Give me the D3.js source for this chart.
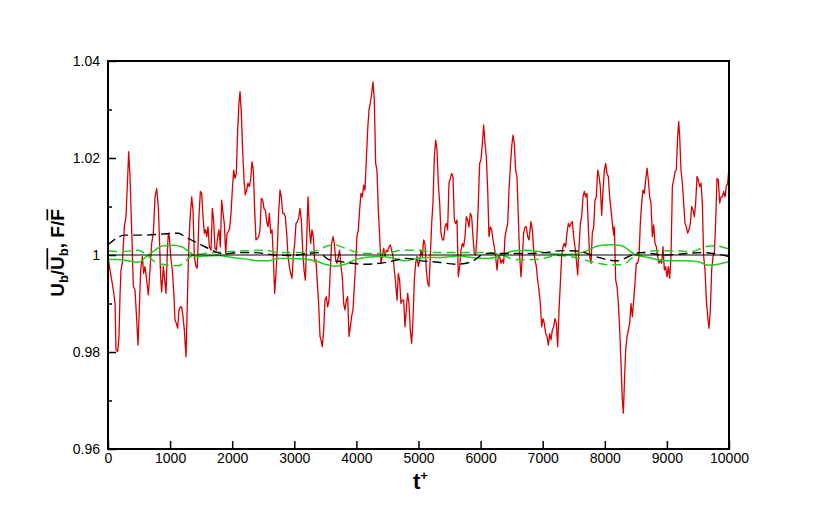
<!DOCTYPE html>
<html><head><meta charset="utf-8">
<script src="https://cdn.jsdelivr.net/npm/d3@7"></script>
<style>
html,body{margin:0;padding:0;background:#fff;}
svg text{font-family:"Liberation Sans",Arial,Helvetica,sans-serif;}
</style></head>
<body><svg id="c" width="830" height="506"></svg>
<script>
// ---- data ----
const xTicks = [0,1000,2000,3000,4000,5000,6000,7000,8000,9000,10000];
const yTicks = [0.96,0.98,1,1.02,1.04];
const yMinorTicks = [0.97,0.99,1.01,1.03];
const yTickLabels = ["0.96","0.98","1","1.02","1.04"];

// red: Ub / mean(Ub)
const redSeries = [
[0,0.9995],[32,0.9969],[86,0.9928],[113,0.9900],[129,0.9804],[156,0.9801],[177,0.9832],[193,0.9914],[209,0.9969],[231,0.9983],[263,1.0058],[290,1.0079],[317,1.0162],[333,1.0213],[354,1.0162],[381,1.0052],[408,0.9935],[435,0.9928],[462,0.9866],[483,0.9814],[504,0.9887],[526,0.9969],[553,0.9997],[574,0.9962],[596,0.9976],[617,0.9955],[649,0.9918],[676,0.9969],[703,1.0024],[730,1.0045],[757,1.0120],[784,1.0137],[810,1.0100],[827,1.0038],[848,0.9955],[864,0.9924],[891,0.9976],[918,0.9942],[934,0.9921],[956,1.0010],[972,1.0045],[988,1.0038],[1009,0.9997],[1036,0.9969],[1063,0.9914],[1079,0.9866],[1100,0.9859],[1122,0.9849],[1143,0.9887],[1165,0.9893],[1186,0.9893],[1208,0.9873],[1229,0.9845],[1256,0.9790],[1277,0.9900],[1299,1.0010],[1320,1.0072],[1347,1.0120],[1369,1.0093],[1390,0.9997],[1417,0.9976],[1438,0.9973],[1465,1.0079],[1487,1.0131],[1508,1.0127],[1530,1.0079],[1551,1.0045],[1573,1.0052],[1589,1.0038],[1610,1.0058],[1632,1.0017],[1659,1.0010],[1680,1.0096],[1701,1.0072],[1723,1.0014],[1745,1.0010],[1766,1.0038],[1787,1.0052],[1809,1.0017],[1830,1.0113],[1852,1.0086],[1873,1.0065],[1895,1.0003],[1916,1.0045],[1938,1.0048],[1959,1.0055],[1981,1.0086],[2002,1.0134],[2024,1.0175],[2045,1.0158],[2066,1.0168],[2088,1.0258],[2109,1.0313],[2126,1.0337],[2147,1.0292],[2168,1.0216],[2190,1.0155],[2211,1.0124],[2233,1.0134],[2254,1.0148],[2276,1.0141],[2297,1.0155],[2319,1.0192],[2340,1.0175],[2362,1.0093],[2383,1.0031],[2405,1.0034],[2426,1.0038],[2448,1.0052],[2469,1.0117],[2491,1.0113],[2512,1.0096],[2534,1.0093],[2555,1.0069],[2577,1.0058],[2598,1.0086],[2620,1.0045],[2641,1.0052],[2662,0.9997],[2684,0.9921],[2705,0.9962],[2727,1.0017],[2748,1.0086],[2770,1.0134],[2791,1.0120],[2813,1.0086],[2834,1.0086],[2856,1.0079],[2877,1.0045],[2899,0.9997],[2920,0.9976],[2942,0.9962],[2963,0.9952],[2985,0.9997],[3006,1.0024],[3027,1.0065],[3049,1.0069],[3070,1.0076],[3092,1.0096],[3113,1.0072],[3135,1.0010],[3156,0.9969],[3178,0.9948],[3199,1.0031],[3221,1.0120],[3242,1.0058],[3264,1.0024],[3285,1.0052],[3307,1.0038],[3328,0.9986],[3349,0.9990],[3371,0.9942],[3392,0.9900],[3414,0.9832],
[3430,0.9825],[3451,0.9811],[3473,0.9845],[3494,0.9907],[3516,0.9914],[3537,0.9893],[3558,0.9907],[3580,0.9969],[3601,1.0024],[3623,1.0038],[3644,1.0024],[3666,0.9990],[3687,0.9983],[3709,0.9997],[3730,1.0010],[3752,0.9976],[3773,0.9955],[3795,0.9900],[3816,0.9887],[3838,0.9907],[3859,0.9914],[3881,0.9832],[3902,0.9852],[3923,0.9873],[3945,0.9887],[3966,0.9935],[3988,0.9983],[4009,1.0038],[4031,1.0052],[4052,1.0093],[4074,1.0127],[4095,1.0120],[4117,1.0144],[4138,1.0134],[4160,1.0196],[4181,1.0258],[4203,1.0299],[4224,1.0313],[4246,1.0333],[4267,1.0357],[4288,1.0320],[4310,1.0189],[4331,1.0175],[4353,1.0093],[4374,1.0038],[4396,0.9983],[4417,0.9997],[4439,1.0014],[4460,0.9997],[4482,1.0010],[4503,1.0007],[4525,1.0017],[4546,1.0021],[4568,1.0010],[4589,0.9997],[4611,0.9969],[4632,0.9942],[4654,0.9907],[4675,0.9962],[4696,0.9948],[4718,0.9900],[4739,0.9907],[4761,0.9907],[4782,0.9852],[4804,0.9887],[4825,0.9921],[4847,0.9900],[4868,0.9845],[4890,0.9818],[4911,0.9866],[4933,0.9948],[4954,0.9983],[4976,0.9997],[4997,0.9976],[5019,0.9990],[5040,1.0010],[5061,0.9997],[5083,1.0031],[5104,1.0024],[5126,0.9969],[5147,0.9942],[5169,0.9935],[5190,0.9997],[5212,1.0065],[5233,1.0107],[5255,1.0203],[5276,1.0237],[5298,1.0216],[5319,1.0148],[5341,1.0107],[5362,1.0045],[5384,1.0031],[5405,1.0031],[5427,1.0058],[5448,1.0065],[5469,1.0052],[5491,1.0148],[5512,1.0158],[5534,1.0168],[5555,1.0162],[5577,1.0072],[5598,1.0065],[5620,1.0072],[5641,0.9955],[5663,0.9976],[5684,1.0010],[5706,1.0024],[5727,1.0017],[5749,1.0038],[5770,1.0079],[5792,1.0072],[5813,1.0058],[5834,1.0086],[5856,1.0079],[5877,1.0038],[5899,1.0003],[5920,1.0000],[5942,1.0038],[5963,1.0107],[5985,1.0189],[6006,1.0196],[6028,1.0230],[6049,1.0268],[6071,1.0230],[6092,1.0203],[6114,1.0134],[6135,1.0038],[6157,1.0058],[6178,1.0052],[6199,1.0031],[6221,1.0017],[6242,0.9997],[6264,0.9969],[6285,0.9997],[6307,0.9997],[6328,0.9983],[6350,0.9990],[6371,0.9983],[6393,1.0038],[6414,1.0052],[6436,1.0065],[6457,1.0134],[6479,1.0182],[6500,1.0223],[6521,1.0247],[6543,1.0230],[6564,1.0175],[6586,1.0162],[6607,1.0079],[6629,0.9997],[6650,0.9955],[6672,0.9997],[6693,1.0045],[6715,1.0058],[6736,1.0058],[6758,1.0038],[6779,1.0031],
[6812,1.0069],[6833,1.0052],[6855,1.0010],[6876,0.9990],[6898,0.9976],[6919,0.9948],[6940,0.9928],[6962,0.9900],[6983,0.9852],[7005,0.9869],[7026,0.9859],[7048,0.9838],[7069,0.9832],[7091,0.9814],[7112,0.9838],[7134,0.9825],[7155,0.9845],[7177,0.9852],[7198,0.9869],[7220,0.9859],[7241,0.9811],[7263,0.9887],[7284,0.9942],[7305,0.9997],[7327,1.0017],[7348,1.0024],[7370,1.0017],[7391,1.0045],[7413,1.0065],[7434,1.0058],[7456,1.0065],[7477,1.0069],[7499,1.0038],[7520,1.0017],[7542,0.9990],[7563,0.9959],[7585,1.0017],[7606,1.0065],[7628,1.0079],[7649,1.0120],[7670,1.0131],[7692,1.0120],[7713,1.0127],[7735,1.0058],[7756,0.9997],[7778,0.9983],[7799,1.0045],[7821,1.0058],[7842,1.0113],[7864,1.0120],[7885,1.0175],[7907,1.0162],[7928,1.0141],[7950,1.0082],[7971,1.0134],[7993,1.0175],[8014,1.0189],[8035,1.0168],[8057,1.0162],[8078,1.0120],[8100,1.0093],[8121,1.0065],[8143,1.0041],[8154,1.0058],[8175,0.9948],[8197,0.9935],[8218,0.9900],[8240,0.9845],[8261,0.9777],[8282,0.9701],[8299,0.9674],[8315,0.9735],[8336,0.9804],[8358,0.9832],[8379,0.9845],[8400,0.9859],[8422,0.9900],[8443,0.9873],[8465,0.9907],[8486,0.9942],[8508,0.9983],[8529,0.9983],[8551,0.9997],[8572,1.0065],[8594,1.0107],[8615,1.0134],[8637,1.0127],[8658,1.0155],[8680,1.0179],[8701,1.0155],[8723,1.0120],[8744,1.0107],[8766,1.0038],[8787,1.0062],[8808,1.0024],[8830,1.0017],[8851,0.9997],[8873,0.9983],[8894,0.9990],[8916,0.9983],[8937,1.0017],[8959,0.9969],[8980,0.9976],[9002,0.9955],[9023,0.9976],[9045,0.9952],[9066,0.9997],[9088,1.0141],[9109,1.0155],[9131,1.0172],[9152,1.0175],[9173,1.0244],[9190,1.0275],[9206,1.0244],[9227,1.0175],[9249,1.0148],[9270,1.0107],[9292,1.0065],[9313,1.0058],[9335,1.0045],[9356,1.0052],[9378,1.0065],[9399,1.0100],[9420,1.0093],[9442,1.0079],[9463,1.0107],[9485,1.0162],[9506,1.0155],[9528,1.0141],[9549,1.0148],[9571,1.0107],[9592,0.9997],[9614,0.9969],[9635,0.9907],[9657,0.9873],[9678,0.9849],[9700,0.9887],[9721,0.9969],[9743,0.9997],[9764,1.0003],[9786,1.0072],[9807,1.0158],[9828,1.0155],[9850,1.0107],[9871,1.0120],[9893,1.0120],[9914,1.0131],[9936,1.0120],[9957,1.0141],[9979,1.0148],[10000,1.0182]
];

// black dashed: F / mean(F)
const blackDashed = [
[0,1.0021],[274,1.0041],[596,1.0041],[864,1.0043],[1133,1.0045],[1240,1.0038],[1401,1.0027],[1562,1.0017],[1723,1.0007],[1884,1.0002],[2099,1.0005],[2367,1.0005],[2690,1.0000],[2958,0.9999],[3172,1.0002],[3387,1.0005],[3548,0.9991],[3762,0.9986],[4138,0.9981],[4487,0.9985],[4809,0.9993],[5051,0.9988],[5319,0.9985],[5614,0.9981],[5856,0.9986],[6071,1.0003],[6446,1.0003],[6768,1.0003],[7037,1.0005],[7305,1.0009],[7574,1.0008],[7842,0.9997],[8191,0.9988],[8567,1.0005],[8970,1.0000],[9560,1.0005],[10000,0.9997]
];

// green solid
const greenSolid = [
[0,0.9991],[220,0.9990],[488,0.9985],[623,0.9997],[757,1.0010],[891,1.0019],[1052,1.0020],[1186,1.0017],[1320,1.0005],[1428,0.9997],[1562,0.9998],[1777,0.9999],[1991,0.9995],[2206,0.9992],[2421,0.9988],[2582,0.9988],[2743,0.9993],[2958,0.9993],[3172,0.9992],[3387,0.9986],[3494,0.9981],[3655,0.9977],[3816,0.9981],[3977,0.9990],[4138,0.9995],[4407,0.9997],[4621,0.9993],[4782,0.9988],[4943,0.9992],[5158,0.9995],[5373,0.9995],[5641,0.9998],[5856,0.9995],[6124,0.9993],[6339,1.0000],[6554,1.0009],[6768,1.0010],[6930,1.0007],[7198,1.0002],[7413,1.0001],[7681,1.0007],[7896,1.0019],[8111,1.0021],[8272,1.0019],[8486,1.0001],[8701,0.9995],[8970,0.9988],[9292,0.9988],[9506,0.9986],[9667,0.9979],[9828,0.9981],[10000,0.9986]
];

// green dashed
const greenDashed = [
[0,1.0008],[220,1.0007],[488,1.0010],[623,1.0000],[757,0.9986],[972,0.9979],[1133,0.9978],[1250,0.9988],[1360,0.9999],[1562,1.0003],[1991,1.0007],[2260,1.0009],[2528,1.0010],[2743,1.0005],[2958,1.0005],[3172,1.0005],[3387,1.0010],[3494,1.0017],[3655,1.0021],[3816,1.0014],[4031,1.0005],[4246,1.0003],[4514,1.0005],[4782,1.0010],[4997,1.0010],[5265,1.0005],[5588,1.0005],[5856,1.0005],[6124,1.0005],[6339,1.0000],[6554,0.9991],[6768,0.9990],[6930,0.9991],[7252,0.9999],[7520,0.9995],[7789,0.9986],[8057,0.9980],[8272,0.9980],[8540,1.0003],[8862,1.0009],[9184,1.0008],[9399,1.0007],[9614,1.0017],[9775,1.0019],[10000,1.0012]
];

// ---- chart ----
const svg = d3.select("#c");
const x = d3.scaleLinear().domain([0,10000]).range([108,729]);
const y = d3.scaleLinear().domain([0.96,1.04]).range([449,61]);

svg.append("defs").append("clipPath").attr("id","plot")
  .append("rect").attr("x",108).attr("y",61).attr("width",621).attr("height",388);

const plot = svg.append("g").attr("clip-path","url(#plot)");

const lineLin = d3.line().x(d=>x(d[0])).y(d=>y(d[1]));
const lineSmooth = d3.line().x(d=>x(d[0])).y(d=>y(d[1])).curve(d3.curveMonotoneX);

plot.append("path").datum(redSeries).attr("d",lineLin)
  .attr("fill","none").attr("stroke","#d80000").attr("stroke-width",1.3).attr("stroke-linejoin","round");

plot.append("path").datum(greenSolid).attr("d",lineSmooth)
  .attr("fill","none").attr("stroke","#1fcc1f").attr("stroke-width",1.5);
plot.append("path").datum(greenDashed).attr("d",lineSmooth)
  .attr("fill","none").attr("stroke","#1fcc1f").attr("stroke-width",1.5).attr("stroke-dasharray","9,5");
plot.append("path").datum(blackDashed).attr("d",lineSmooth)
  .attr("fill","none").attr("stroke","#000").attr("stroke-width",1.4).attr("stroke-dasharray","9,5");

// reference line at 1
plot.append("line").attr("x1",x(0)).attr("x2",x(10000)).attr("y1",y(1)).attr("y2",y(1))
  .attr("stroke","#000").attr("stroke-width",1.2);

// axes
const fmtY = d => yTickLabels[yTicks.indexOf(d)];
const gx = svg.append("g").attr("transform","translate(0,449)")
  .call(d3.axisBottom(x).tickValues(xTicks).tickSize(-8).tickPadding(4).tickFormat(d3.format("d")));
const gy = svg.append("g").attr("transform","translate(108,0)")
  .call(d3.axisLeft(y).tickValues(yTicks).tickSize(-8).tickPadding(8).tickFormat(fmtY));
const gym = svg.append("g").attr("transform","translate(108,0)")
  .call(d3.axisLeft(y).tickValues(yMinorTicks).tickSize(-4).tickFormat(""));
[gx,gy,gym].forEach(g=>{
  g.select(".domain").remove();
  g.selectAll(".tick line").attr("stroke","#000").attr("stroke-width",1.5);
  g.selectAll(".tick text").attr("font-size",14).attr("fill","#000")
    .style("font-family","'Liberation Sans',Arial,sans-serif");
});

// frame
svg.append("rect").attr("x",108).attr("y",61).attr("width",621).attr("height",388)
  .attr("fill","none").attr("stroke","#000").attr("stroke-width",2);

// x title
const xt = svg.append("text").attr("x",x(5000)+2).attr("y",489)
  .attr("text-anchor","middle").attr("font-weight","bold").attr("font-size",22);
xt.append("tspan").text("t");
xt.append("tspan").attr("dy",-9).attr("font-size",13).text("+");

// y title
const fs = 19;
const yg = svg.append("g").attr("transform","translate(64,253) rotate(-90)");
const yt = yg.append("text").attr("text-anchor","middle").attr("font-weight","bold").attr("font-size",fs);
yt.append("tspan").text("U");
yt.append("tspan").attr("dy",4).attr("font-size",13).text("b");
yt.append("tspan").attr("dy",-4).text("/U");
yt.append("tspan").attr("dy",4).attr("font-size",13).text("b");
yt.append("tspan").attr("dy",-4).text(", F/F");
const node = yt.node();
function ext(i){ return node.getExtentOfChar(i); }
const u2 = ext(3), b2 = ext(4), f2 = ext(9);
const oy = -fs*0.72 - 3;
yg.append("line").attr("x1",u2.x+0.5).attr("x2",b2.x+b2.width).attr("y1",oy).attr("y2",oy)
  .attr("stroke","#000").attr("stroke-width",1.7);
yg.append("line").attr("x1",f2.x+0.5).attr("x2",f2.x+f2.width).attr("y1",oy).attr("y2",oy)
  .attr("stroke","#000").attr("stroke-width",1.7);
</script>
</body></html>
